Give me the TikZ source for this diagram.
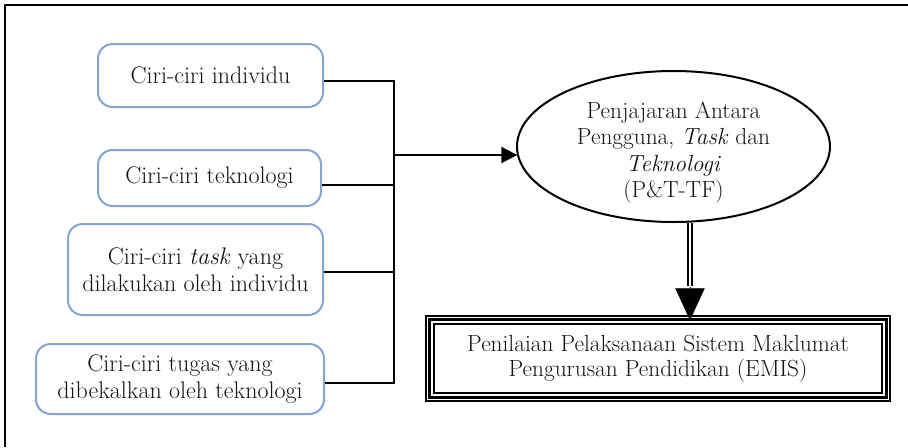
\documentclass[tikz,border=0pt]{standalone}
\usetikzlibrary{arrows.meta,shapes.geometric,calc}
\definecolor{boxblue}{RGB}{128,165,214}
\definecolor{txt}{RGB}{20,18,18}
\begin{document}
\begin{tikzpicture}[x=0.75pt,y=-0.75pt,
  cbox/.style={draw=boxblue, line width=1.5pt, rounded corners=11pt, align=center,
    text=txt, font=\fontsize{18}{20}\selectfont, inner sep=0pt},
  conn/.style={line width=1.5pt, draw=black},
  ovalbox/.style={draw, ellipse, line width=1.5pt, inner sep=0pt},
  ovaltext/.style={text=txt, align=center, font=\fontsize{17.5}{19.8}\selectfont},
  resultbox/.style={draw, line width=1.1pt, inner sep=0pt, align=center,
    text=txt, font=\fontsize{17.5}{19}\selectfont}
]
\useasboundingbox (0,0) rectangle (908,447);
% outer frame (top and left edges visible)
\draw[line width=2pt] (5,447) -- (5,5) -- (908,5);

\node[cbox, minimum width=168.75pt, minimum height=47.25pt] (b1) at (210.5,75.5) {Ciri-ciri individu};
\node[cbox, minimum width=167.25pt, minimum height=42pt] (b2) at (209.5,178) {Ciri-ciri teknologi};
\node[cbox, minimum width=191.25pt, minimum height=68.25pt] (b3) at (195.5,269.5) {Ciri-ciri \textit{task} yang\\dilakukan oleh individu};
\node[cbox, minimum width=216pt, minimum height=52.5pt] (b4) at (180,379) {Ciri-ciri tugas yang\\dibekalkan oleh teknologi};

\node[ovalbox, minimum width=234.75pt, minimum height=113.25pt,
  label={[ovaltext, yshift=-4.5pt]center:{Penjajaran Antara\\Pengguna, \textit{Task} dan\\\textit{Teknologi}\\(P\&T-TF)}}] (ell) at (673.5,146.5) {};

\node[resultbox, minimum width=348pt, minimum height=63.75pt] (emis) at (658,358.5)
  {Penilaian Pelaksanaan Sistem Maklumat\\Pengurusan Pendidikan (EMIS)};
\draw[line width=2.5pt] ([shift={(3.2pt,-3.2pt)}]emis.north west) rectangle ([shift={(-3.2pt,3.2pt)}]emis.south east);
\draw[line width=1.1pt] ([shift={(6.5pt,-6.5pt)}]emis.north west) rectangle ([shift={(-6.5pt,6.5pt)}]emis.south east);

% connectors
\coordinate (jx) at (394,155);
\draw[conn] ([yshift=-4pt]b1.east) -| (jx) |- ([yshift=-3pt]b4.east);
\draw[conn] ([yshift=-5.25pt]b2.east) -- ([yshift=-5.25pt]b2.east -| jx);
\draw[conn] ([yshift=-1.9pt]b3.east) -- ([yshift=-1.9pt]b3.east -| jx);
\draw[conn, -{Triangle[length=12pt,width=12pt]}] (jx) -- ([xshift=1pt]jx -| ell.west);

\coordinate (ax) at (690,0);
\draw[line width=1.3pt, double distance=2.2pt, double=white] (ell.south -| ax) -- ([yshift=22pt]emis.north -| ax);
\draw[line width=0.5pt, -{Triangle[length=24pt,width=22pt]}] ([yshift=21pt]emis.north -| ax) -- ([yshift=-3.75pt]emis.north -| ax);
\end{tikzpicture}
\end{document}
